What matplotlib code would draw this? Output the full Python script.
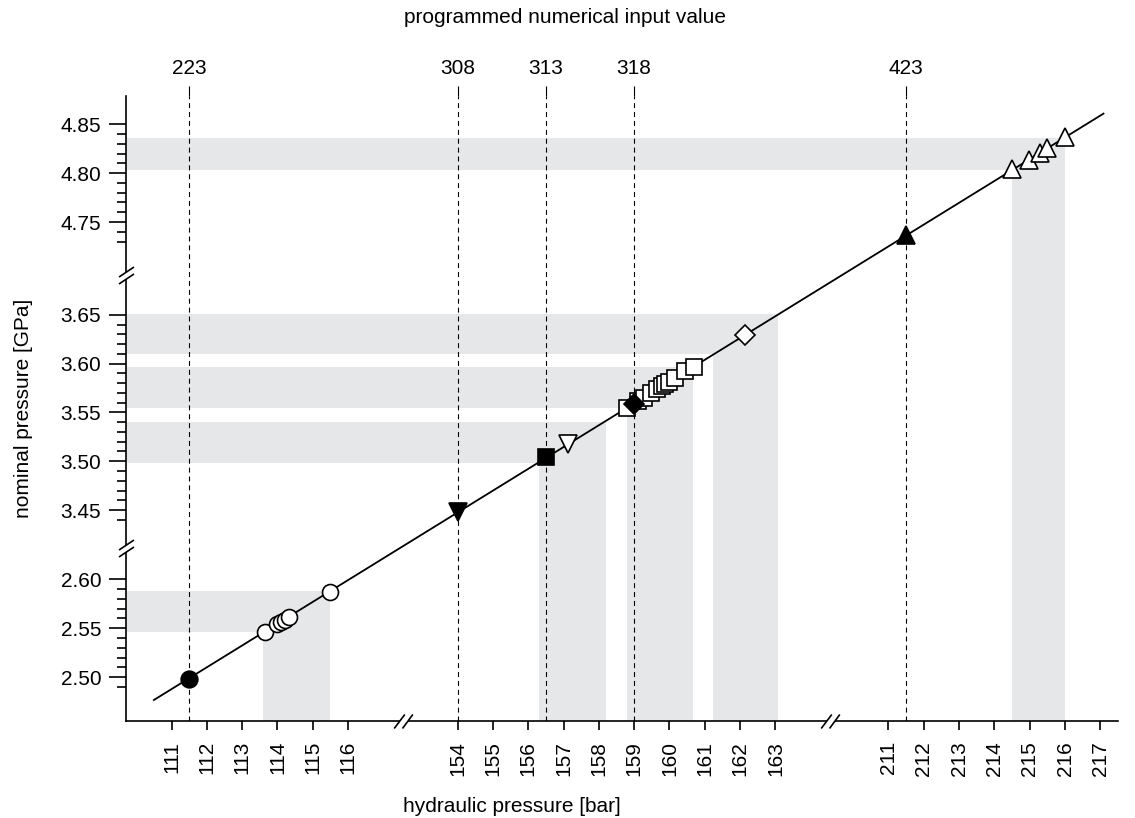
import numpy as np
import matplotlib
matplotlib.use('Agg')
import matplotlib.pyplot as plt
from matplotlib.path import Path

plt.rcParams['font.family'] = ['Liberation Sans', 'DejaVu Sans']

# visible pieces of each axis, the rest is cut out (broken axes)
x_segs = [(109.70, 117.55), (152.45, 164.55), (209.35, 217.50)]
y_segs = [(2.455, 2.632), (3.411, 3.691), (4.696, 4.879)]

x_ticks = [111, 112, 113, 114, 115, 116,
           154, 155, 156, 157, 158, 159, 160, 161, 162, 163,
           211, 212, 213, 214, 215, 216, 217]
y_major = [2.50, 2.55, 2.60, 3.45, 3.50, 3.55, 3.60, 3.65, 4.75, 4.80, 4.85]
y_minor = [2.49, 2.51, 2.52, 2.53, 2.54, 2.56, 2.57, 2.58, 2.59,
           3.44, 3.46, 3.47, 3.48, 3.49, 3.51, 3.52, 3.53, 3.54,
           3.56, 3.57, 3.58, 3.59, 3.61, 3.62, 3.63, 3.64,
           4.73, 4.74, 4.76, 4.77, 4.78, 4.79, 4.81, 4.82, 4.83, 4.84]

# programmed input values (top axis)
input_x = [111.5, 154.0, 156.5, 159.0, 211.5]
input_lbl = ['223', '308', '313', '318', '423']

# calibration line
fit_x = [110.50, 217.09]
fit_y = [2.4765, 4.861]

# measured points
circ_x = [113.64, 114.00, 114.10, 114.21, 114.33, 115.50]
circ_y = [2.546, 2.554, 2.556, 2.558, 2.561, 2.587]
sq_x = [158.80, 159.12, 159.27, 159.49, 159.66, 159.78, 159.88, 159.98, 160.17, 160.45, 160.69]
sq_y = [3.555, 3.562, 3.565, 3.570, 3.574, 3.577, 3.579, 3.581, 3.585, 3.592, 3.597]
tri_x = [214.51, 214.97, 215.30, 215.49, 215.99]
tri_y = [4.804, 4.814, 4.821, 4.826, 4.837]
fcirc = (111.5, 2.498)
fdown = (154.0, 3.448)
fsq = (156.5, 3.504)
odown = (157.14, 3.518)
fdiam = (159.0, 3.559)
odiam = (162.15, 3.629)
ftri = (211.5, 4.737)

# shaded ranges (x range, y range)
band_x = [(113.60, 115.49), (156.31, 158.20), (158.79, 160.66), (161.22, 163.08), (214.50, 216.00)]
band_y = [(2.5464, 2.5881), (3.4987, 3.5397), (3.5546, 3.5960), (3.6103, 3.6512), (4.8036, 4.8359)]


def broken(segs):
    starts = np.array([s[0] for s in segs])
    ends = np.array([s[1] for s in segs])
    offs = np.concatenate([[0.0], np.cumsum(ends - starts)[:-1]])
    n = len(segs)

    def fwd(v):
        v = np.asarray(v, dtype=float)
        i = np.clip(np.searchsorted(starts, v, side='right') - 1, 0, n - 1)
        lo = np.where(i == 0, -np.inf, starts[i])
        hi = np.where(i == n - 1, np.inf, ends[i])
        return offs[i] + np.clip(v, lo, hi) - starts[i]

    def inv(u):
        u = np.asarray(u, dtype=float)
        i = np.clip(np.searchsorted(offs, u, side='right') - 1, 0, n - 1)
        return starts[i] + u - offs[i]
    return fwd, inv


fx = broken(x_segs)
fy = broken(y_segs)

fig = plt.figure(figsize=(11.35, 8.18), dpi=100)
ax = fig.add_axes([0.1107, 0.1186, 0.985 - 0.1107, 0.8826 - 0.1186])
ax.set_xscale('function', functions=fx)
ax.set_yscale('function', functions=fy)
x0, x1 = x_segs[0][0], x_segs[-1][1]
y0, y1 = y_segs[0][0], y_segs[-1][1]
ax.set_xlim(x0, x1)
ax.set_ylim(y0, y1)

grey = '#e6e7e8'
for (xa, xb), (ya, yb) in zip(band_x, band_y):
    ax.fill_between([x0, xb], ya, yb, color=grey, lw=0, zorder=0.5)
    ax.fill_between([xa, xb], y0, yb, color=grey, lw=0, zorder=0.5)

for xv in input_x:
    ax.axvline(xv, color='black', lw=0.8, ls=(0, (4.5, 3.5)), zorder=1)

ax.plot(fit_x, fit_y, color='black', lw=1.3, zorder=2)

op = dict(mfc='white', mec='black', mew=1.2, ls='none', zorder=3)
cl = dict(mfc='black', mec='black', mew=1.2, ls='none', zorder=4)
ax.plot(circ_x, circ_y, 'o', ms=11.5, **op)
ax.plot(*fcirc, 'o', ms=12, **cl)
ax.plot(*fdown, 'v', ms=12.5, **cl)
ax.plot(*fsq, 's', ms=11, **cl)
ax.plot(*odown, 'v', ms=12.5, **op)
ax.plot(sq_x, sq_y, 's', ms=11, **op)
ax.plot(*fdiam, 'D', ms=10, **cl)
ax.plot(*odiam, 'D', ms=10, **op)
ax.plot(*ftri, '^', ms=12.5, **cl)
ax.plot(tri_x, tri_y, '^', ms=12.5, **op)

for s in ['top', 'right']:
    ax.spines[s].set_visible(False)
for s in ['left', 'bottom']:
    ax.spines[s].set_linewidth(1.2)

ax.set_xticks(x_ticks, labels=[str(t) for t in x_ticks], rotation=90)
ax.set_yticks(y_major, labels=['%.2f' % t for t in y_major])
ax.set_yticks(y_minor, minor=True)
ax.tick_params(axis='x', direction='out', length=6.5, width=1.2, pad=8, labelsize=15)
ax.tick_params(axis='y', which='major', direction='out', length=12.5, width=1.2, pad=5, labelsize=15)
ax.tick_params(axis='y', which='minor', direction='out', length=6.5, width=1.2)

ax.set_xlabel('hydraulic pressure [bar]', fontsize=15)
ax.xaxis.set_label_coords(0.389, -0.122)
ax.set_ylabel('nominal pressure [GPa]', fontsize=15)
ax.yaxis.set_label_coords(-0.093, 0.5)

# top axis with programmed input values
ax2 = ax.twiny()
ax2.set_xscale('function', functions=fx)
ax2.set_xlim(x0, x1)
ax2.set_xticks(input_x, labels=input_lbl)
for s in ax2.spines.values():
    s.set_visible(False)
ax2.tick_params(axis='x', direction='out', length=7, width=0.8, pad=6, labelsize=15)
ax2.set_xlabel('programmed numerical input value', fontsize=15)
ax2.xaxis.set_label_coords(0.443, 1.117)

# axis break marks
xs_path = Path([(-9.3, -7), (1.3, 7), (-1, -7), (9.3, 7)],
               [Path.MOVETO, Path.LINETO, Path.MOVETO, Path.LINETO])
xs_gap = Path([(-9.3, -7), (1.3, 7), (9.3, 7), (-1, -7), (-9.3, -7)],
              [Path.MOVETO, Path.LINETO, Path.LINETO, Path.LINETO, Path.CLOSEPOLY])
ys_path = Path([(-7.5, -8.5), (7.5, 1.5), (-7.5, -1.5), (7.5, 8.5)],
               [Path.MOVETO, Path.LINETO, Path.MOVETO, Path.LINETO])
ys_gap = Path([(-7.5, -8.5), (7.5, 1.5), (7.5, 8.5), (-7.5, -1.5), (-7.5, -8.5)],
              [Path.MOVETO, Path.LINETO, Path.LINETO, Path.LINETO, Path.CLOSEPOLY])

for seg in x_segs[:-1]:
    ax.plot([seg[1]], [0], marker=xs_gap, ms=13.4, mfc='white', mec='none',
            transform=ax.get_xaxis_transform(), clip_on=False, zorder=5)
    ax.plot([seg[1]], [0], marker=xs_path, ms=13.4, mec='black', mew=1.2,
            transform=ax.get_xaxis_transform(), clip_on=False, zorder=6)
for seg in y_segs[:-1]:
    ax.plot([0], [seg[1]], marker=ys_gap, ms=12.2, mfc='white', mec='none',
            transform=ax.get_yaxis_transform(), clip_on=False, zorder=5)
    ax.plot([0], [seg[1]], marker=ys_path, ms=12.2, mec='black', mew=1.2,
            transform=ax.get_yaxis_transform(), clip_on=False, zorder=6)

fig.savefig('out.png', dpi=100)
